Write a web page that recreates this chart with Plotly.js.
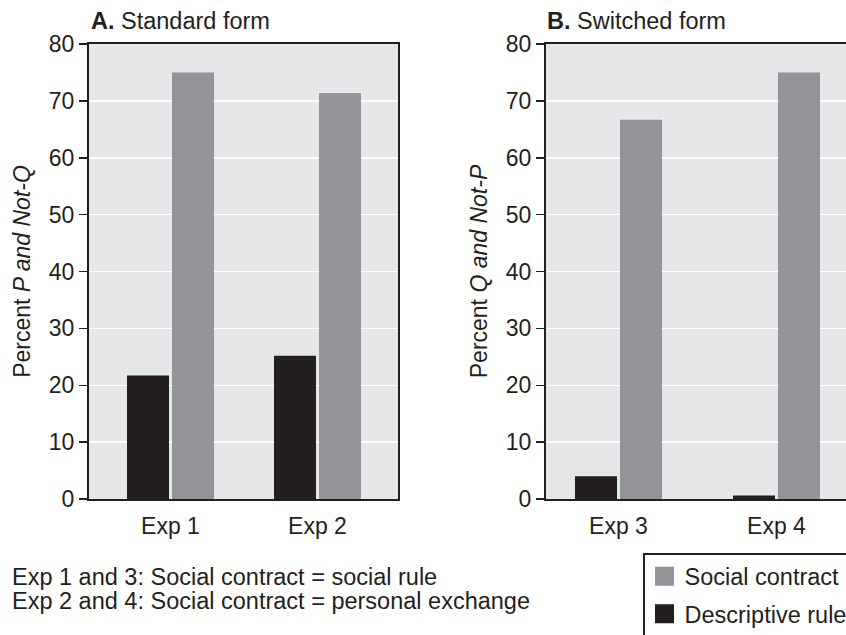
<!DOCTYPE html>
<html>
<head>
<meta charset="utf-8">
<script src="https://cdn.plot.ly/plotly-3.0.1.min.js"></script>
<style>html,body{margin:0;padding:0;overflow:hidden;background:#fff;}#chart{width:846px;height:635px;}</style>
</head>
<body>
<div id="chart"></div>
<script>
// ---- data ----
var catsA = ["Exp 1", "Exp 2"];
var catsB = ["Exp 3", "Exp 4"];
var descriptiveA = [21.7, 25.2];
var socialA = [75.0, 71.4];
var descriptiveB = [4.0, 0.6];
var socialB = [66.7, 75.0];
var yTicks = [0, 10, 20, 30, 40, 50, 60, 70, 80];
var seriesNames = ["Descriptive rule", "Social contract"];

// ---- style / layout helpers ----
var W = 846, H = 635;
var ink = "#231f20", grey = "#939598", panel = "#e6e7e8";
var FONT = "Liberation Sans, Arial, Helvetica, sans-serif";
var FS = 23;
function fx(px){ return px / W; }
function fy(px){ return 1 - px / H; }

// pixel geometry of the panels
var A = {left: 89, right: 398, c0: 170.5, step: 147};
var B = {left: 546, right: 846, c0: 618.5, step: 158};
var barPx = 42, gapPx = 3;
function rangeOf(p){ return [(p.left - p.c0)/p.step, (p.right - p.c0)/p.step]; }

function bars(p, cats, vals, name, color, left, xa, ya){
  var w = barPx / p.step;
  var off = left ? -(barPx + gapPx/2) / p.step : (gapPx/2) / p.step;
  return {
    type: "bar", x: cats, y: vals, name: name, xaxis: xa, yaxis: ya,
    width: cats.map(function(){return w;}), offset: cats.map(function(){return off;}),
    marker: {color: color, line: {width: 0}},
    showlegend: false, hoverinfo: "x+y+name"
  };
}
// legend keys (no data drawn; bigger square swatches like the reference)
function key(name, color){
  return {type: "scatter", mode: "markers", x: [null], y: [null], name: name,
    legendgroup: name, showlegend: true, xaxis: "x", yaxis: "y",
    marker: {symbol: "square", size: 16, color: color, line: {width: 3, color: color}}};
}

var traces = [
  key(seriesNames[1], grey),
  key(seriesNames[0], ink),
  bars(A, catsA, descriptiveA, seriesNames[0], ink, true, "x", "y"),
  bars(A, catsA, socialA, seriesNames[1], grey, false, "x", "y"),
  bars(B, catsB, descriptiveB, seriesNames[0], ink, true, "x2", "y2"),
  bars(B, catsB, socialB, seriesNames[1], grey, false, "x2", "y2")
];

var yDomain = [fy(499), fy(44)];
function yAxis(anchor, title, mirror){
  return {
    anchor: anchor, domain: yDomain, range: [0, 80], tickvals: yTicks,
    ticks: "outside", ticklen: 8, tickwidth: 1.5, tickcolor: ink,
    showline: true, linecolor: ink, linewidth: 2, mirror: mirror,
    showgrid: true, gridcolor: "#ffffff", gridwidth: 1.5, zeroline: false,
    tickfont: {family: FONT, size: FS, color: ink},
    title: {text: title, font: {family: FONT, size: FS, color: ink}, standoff: 12},
    fixedrange: true
  };
}
function xAxis(anchor, p, cats, mirror){
  return {
    anchor: anchor, domain: [fx(p.left), fx(p.right)], range: rangeOf(p),
    type: "category", categoryarray: cats, ticks: "", showgrid: false, zeroline: false,
    showline: true, linecolor: ink, linewidth: 2, mirror: mirror,
    tickfont: {family: FONT, size: FS, color: ink}, ticklabelstandoff: 5,
    fixedrange: true
  };
}

var layout = {
  width: W, height: H,
  margin: {l: 0, r: 0, t: 0, b: 0, autoexpand: false},
  paper_bgcolor: "#ffffff", plot_bgcolor: panel,
  barmode: "overlay",
  font: {family: FONT, size: FS, color: ink},
  xaxis: xAxis("y", A, catsA, true),
  yaxis: yAxis("x", "Percent <i>P and Not-Q</i>", true),
  xaxis2: xAxis("y2", B, catsB, true),
  yaxis2: yAxis("x2", "Percent <i>Q and Not-P</i>", false),
  showlegend: true,
  legend: {
    x: fx(643), xanchor: "left", y: fy(553), yanchor: "top",
    traceorder: "grouped", tracegroupgap: 4,
    bordercolor: ink, borderwidth: 1.5, bgcolor: "#ffffff",
    font: {family: FONT, size: 23.5, color: ink}, maxheight: 1000
  },
  annotations: [
    {xref: "paper", yref: "paper", x: fx(89), y: fy(21), xanchor: "left", yanchor: "middle",
     text: "<b>A.</b> Standard form", showarrow: false, font: {family: FONT, size: 23.5, color: ink}},
    {xref: "paper", yref: "paper", x: fx(545), y: fy(21), xanchor: "left", yanchor: "middle",
     text: "<b>B.</b> Switched form", showarrow: false, font: {family: FONT, size: 23.5, color: ink}},
    {xref: "paper", yref: "paper", x: fx(10), y: fy(577), xanchor: "left", yanchor: "middle",
     text: "Exp 1 and 3: Social contract = social rule", showarrow: false, font: {family: FONT, size: 23.5, color: ink}},
    {xref: "paper", yref: "paper", x: fx(10), y: fy(601), xanchor: "left", yanchor: "middle",
     text: "Exp 2 and 4: Social contract = personal exchange", showarrow: false, font: {family: FONT, size: 23.5, color: ink}}
  ]
};

Plotly.newPlot("chart", traces, layout, {displayModeBar: false, staticPlot: true});
</script>
</body>
</html>
